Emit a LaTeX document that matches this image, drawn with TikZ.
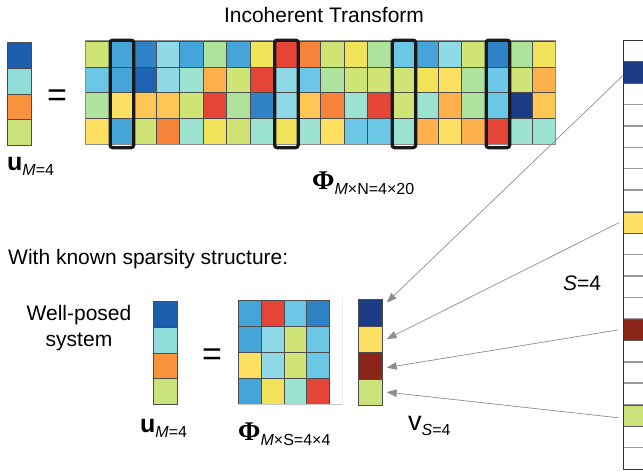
\documentclass[tikz,border=0pt]{standalone}
\usepackage{fontspec}
\setmainfont{Liberation Sans}
\newfontfamily\phifont{Liberation Serif}
\usetikzlibrary{arrows.meta}

% colour scale of the coefficient cells
\definecolor{cNV}{HTML}{1C3C86}
\definecolor{cDB}{HTML}{1F63B4}
\definecolor{cBB}{HTML}{2F82C6}
\definecolor{cB}{HTML}{45A5D9}
\definecolor{cLB}{HTML}{6CC6E6}
\definecolor{cLC}{HTML}{8FD9E6}
\definecolor{cAQ}{HTML}{9CE2D0}
\definecolor{cLG}{HTML}{AEE39E}
\definecolor{cYG}{HTML}{CFE474}
\definecolor{cY}{HTML}{F0E35A}
\definecolor{cYL}{HTML}{FDE062}
\definecolor{cYO}{HTML}{FDC655}
\definecolor{cOY}{HTML}{FDB04C}
\definecolor{cO}{HTML}{F7823A}
\definecolor{cR}{HTML}{E54537}
\definecolor{cDR}{HTML}{8B2419}
\definecolor{cUB}{HTML}{1B5FAE}
\definecolor{cUC}{HTML}{8FDCD8}
\definecolor{cUO}{HTML}{F8923C}
\definecolor{cUG}{HTML}{C9E27A}
\definecolor{linegray}{HTML}{8E8E8E}

\newcommand\lblsub[1]{\raisebox{-5pt}{\fontsize{16}{18}\selectfont #1}}

\begin{document}
\begin{tikzpicture}[x=1pt,y=-1pt,
  txt/.style={inner sep=0pt, font=\fontsize{21}{25}\selectfont},
  cell/.style={draw=black!70, line width=0.7pt, inner sep=0pt, anchor=north west},
  bigcell/.style={cell, minimum width=23.5pt, minimum height=25.8pt},
  ucell/.style={cell, minimum width=24pt, minimum height=25.75pt},
  scell/.style={cell, minimum width=22.75pt, minimum height=26pt},
  vcell/.style={cell, minimum width=24pt, minimum height=26.5pt},
  rcell/.style={cell, draw=black!65, minimum width=60pt, minimum height=21.45pt},
  selbox/.style={draw=black!90, line width=3.3pt, rounded corners=2.5pt, inner sep=0pt,
    minimum width=23.5pt, minimum height=107.5pt, anchor=north west},
  divider/.style={draw=black!40, line width=1.5pt},
  conn/.style={draw=linegray, line width=0.7pt, -{Triangle[length=10pt,width=7.5pt]}},
  eqsign/.style={inner sep=0pt, font=\fontsize{34}{34}\selectfont}]
\useasboundingbox (0,0) rectangle (643,472);
\clip (0,0) rectangle (643,472);

% ---------- title ----------
\node[txt, anchor=base] (title) at (324,22) {Incoherent Transform};

% ---------- measurement vector u (top) ----------
\foreach \c [count=\j from 0] in {UB,UC,UO,UG}
  \node[ucell, fill=c\c] (u\j) at (7,{42+25.75*\j}) {};
\node[eqsign] (eqtop) at (57,98) {=};

% ---------- full transform, 4 x 20 ----------
\foreach \col [count=\i from 0] in {
  {YG,LB,LG,YL},{B,B,YL,B},{BB,DB,YO,YG},{LC,LC,YO,O},{B,AQ,YG,AQ},
  {LG,OY,R,Y},{B,YG,LG,YG},{Y,R,BB,AQ},{R,LC,LC,Y},{O,LB,YO,AQ},
  {YG,LG,O,YL},{Y,YG,AQ,LB},{LG,YG,R,LB},{LB,YG,YG,AQ},{B,Y,AQ,OY},
  {LC,YL,OY,YL},{YG,LG,LG,OY},{BB,LB,LB,R},{LG,YG,NV,AQ},{Y,OY,YO,AQ}}
{
  \foreach \c [count=\j from 0] in \col
    \node[bigcell, fill=c\c] (P-\j-\i) at ({85+23.5*\i},{40.7+25.8*\j}) {};
}
\draw[black!45, line width=0.6pt] (P-0-0.north west) rectangle (P-3-19.south east);

% columns picked out by the support
\foreach \k in {1,8,13,17}
  \node[selbox] (sel\k) at ({85+23.5*\k},38.5) {};

% ---------- labels of the top equation ----------
\node[anchor=base west, inner sep=0pt] (ulabtop) at (7,170)
  {\fontsize{25}{28}\selectfont\bfseries u\mdseries\lblsub{\itshape M\upshape =4}};
\node[anchor=base west, inner sep=0pt] (philabtop) at (312,189)
  {\fontsize{27}{30}\selectfont\phifont\bfseries Φ\normalfont\lblsub{\itshape M\upshape ×N=4×20}};

% ---------- sparse coefficient vector (right) ----------
\foreach \j in {0,...,19}
  \node[rcell, draw=none, fill=white] (r\j) at (623,{40+21.45*\j}) {};
\foreach \j in {1,...,19}
  \draw[divider] (r\j.north west) -- (r\j.north east);
\node[rcell, fill=cNV]  (r1)  at (623,{40+21.45*1}) {};
\node[rcell, fill=cYL]  (r8)  at (623,{40+21.45*8}) {};
\node[rcell, fill=cDR]  (r13) at (623,{40+21.45*13}) {};
\node[rcell, fill=cUG]  (r17) at (623,{40+21.45*17}) {};
\draw[black!80, line width=1pt] (r0.north east) -- (r0.north west) -- (r19.south west) -- (r19.south east);
\node[txt, anchor=base west] (slab) at (563,290) {\itshape S\upshape =4};

% ---------- reduced system ----------
\node[txt, align=center, anchor=base] (wellposed) at (79,346)
  {Well-posed\\[1pt]system};

\foreach \c [count=\j from 0] in {UB,UC,UO,UG}
  \node[ucell, fill=c\c] (ub\j) at (153,{301+25.75*\j}) {};
\node[eqsign] (eqbot) at (212,357) {=};

\foreach \col [count=\i from 0] in {{B,B,YL,B},{R,LC,LC,Y},{LB,YG,YG,AQ},{BB,LB,LB,R}}
{
  \foreach \c [count=\j from 0] in \col
    \node[scell, fill=c\c] (Q-\j-\i) at ({238+22.75*\i},{300+26*\j}) {};
}
\draw[black!22, line width=0.6pt] (Q-3-0.south west) -- ++(104,0);
\draw[black!7, line width=0.6pt] ([xshift=104pt]Q-3-0.south west) -- ++(0,-108);

\foreach \c [count=\j from 0] in {NV,YL,DR,UG}
  \node[vcell, fill=c\c] (v\j) at (358,{299+26.5*\j}) {};

\node[anchor=base west, inner sep=0pt] (ulabbot) at (140,432)
  {\fontsize{25}{28}\selectfont\bfseries u\mdseries\lblsub{\itshape M\upshape =4}};
\node[anchor=base west, inner sep=0pt] (philabbot) at (238,440)
  {\fontsize{27}{30}\selectfont\phifont\bfseries Φ\normalfont\lblsub{\itshape M\upshape ×S=4×4}};
\node[anchor=base west, inner sep=0pt] (vlab) at (408,430)
  {\fontsize{27}{30}\selectfont v\lblsub{\itshape S\upshape =4}};

\node[txt, anchor=base west] (sparsitytxt) at (8,264) {With known sparsity structure:};

% ---------- support entries gathered into v ----------
\draw[conn] ([yshift=-3pt]r1.west) -- ([xshift=4pt,yshift=10pt]v0.east);
\draw[conn] ([xshift=-4pt]r8.west) -- ([xshift=4pt]v1.east);
\draw[conn] ([xshift=-5pt]r13.west) -- ([xshift=4pt,yshift=-2pt]v2.east);
\draw[conn] ([xshift=-5pt,yshift=-2pt]r17.west) -- ([xshift=4pt]v3.east);
\end{tikzpicture}
\end{document}
